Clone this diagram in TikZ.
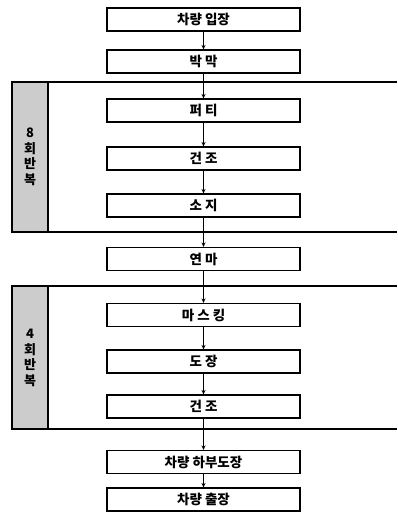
\documentclass[tikz,border=0pt]{standalone}
\usepackage{fontspec}
\newfontfamily\kr{Noto Sans CJK KR Black}
\usetikzlibrary{arrows.meta}
\begin{document}
\begin{tikzpicture}[x=1pt,y=1pt,
  stepbox/.style={draw=black, line width=1.1pt, minimum width=193pt, minimum height=23pt, inner sep=0pt,
    font=\kr\fontsize{13.5}{15}\selectfont},
  flow/.style={line width=0.8pt, -{Stealth[length=4.5pt,width=4pt]}},
  frameline/.style={line width=1.2pt},
  repbox/.style={draw=black, line width=1.2pt, fill=gray!40},
  replabel/.style={align=center, inner sep=0pt, font=\kr\fontsize{13}{15.5}\selectfont}]
\useasboundingbox (0,0) rectangle (397,-512);
% frames
\draw[frameline] (397,-82) -- (12,-82) -- (12,-232) -- (397,-232);
\draw[repbox] (12,-82) rectangle (48,-232);
\node[replabel] (r1) at (30,-157) {8\\회\\반\\복};
\draw[frameline] (397,-286) -- (12,-286) -- (12,-429) -- (397,-429);
\draw[repbox] (12,-286) rectangle (48,-429);
\node[replabel] (r2) at (30,-358) {4\\회\\반\\복};
% boxes
\node[stepbox] (b1) at (203.5,-19.5) {차량 입장};
\node[stepbox] (b2) at (203.5,-61.5) {박 막};
\node[stepbox] (b3) at (203.5,-110.5) {퍼 티};
\node[stepbox] (b4) at (203.5,-158.5) {건 조};
\node[stepbox] (b5) at (203.5,-205.5) {소 지};
\node[stepbox] (b6) at (203.5,-259) {연 마};
\node[stepbox] (b7) at (203.5,-315) {마 스 킹};
\node[stepbox] (b8) at (203.5,-361.5) {도 장};
\node[stepbox] (b9) at (203.5,-406.5) {건 조};
\node[stepbox] (b10) at (203.5,-462) {차량 하부도장};
\node[stepbox] (b11) at (203.5,-499.5) {차량 출장};
% arrows
\foreach \a/\b in {b1/b2,b2/b3,b3/b4,b4/b5,b5/b6,b6/b7,b7/b8,b8/b9,b9/b10,b10/b11}
  \draw[flow] (\a) -- (\b);
\end{tikzpicture}
\end{document}
